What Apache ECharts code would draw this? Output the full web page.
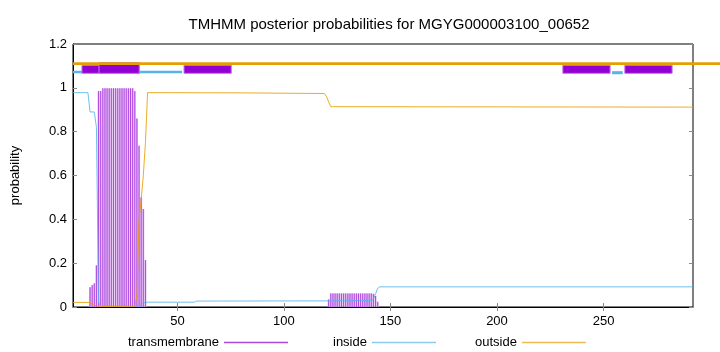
<!DOCTYPE html>
<html>
<head>
<meta charset="utf-8">
<script src="https://cdn.jsdelivr.net/npm/echarts@6/dist/echarts.min.js"></script>
<style>
  html, body { margin: 0; padding: 0; background: #fff; }
  #chart { width: 720px; height: 352px; }
</style>
</head>
<body>
<div id="chart"></div>
<script>
// residue range and ticks
const seqLength = 292;
const xTicks = [50, 100, 150, 200, 250];

// transmembrane posterior, [residue, probability] (drawn as impulses)
const tmProb = [
  [9, 0.09], [10, 0.10], [11, 0.108], [12, 0.19], [13, 0.985], [14, 0.985],
  [15, 0.998], [16, 0.998], [17, 0.998], [18, 0.998], [19, 0.998], [20, 0.998],
  [21, 0.998], [22, 0.998], [23, 0.998], [24, 0.998], [25, 0.998], [26, 0.998],
  [27, 0.998], [28, 0.998], [29, 0.998], [30, 0.985], [31, 0.86], [32, 0.736],
  [33, 0.50], [34, 0.447], [35, 0.214],
  [121, 0.035], [122, 0.062], [123, 0.062], [124, 0.062], [125, 0.062], [126, 0.062],
  [127, 0.062], [128, 0.062], [129, 0.062], [130, 0.062], [131, 0.062], [132, 0.062],
  [133, 0.062], [134, 0.062], [135, 0.062], [136, 0.062], [137, 0.062], [138, 0.062],
  [139, 0.062], [140, 0.062], [141, 0.062], [142, 0.06], [143, 0.05], [144, 0.024]
];

// inside posterior, [residue, probability]
const insideProb = [
  [1, 0.978], [8, 0.978], [9, 0.89], [11, 0.89], [12, 0.82], [13, 0.02], [14, 0.004],
  [32, 0.004], [33, 0.01], [34, 0.018], [35, 0.022], [58, 0.022], [59, 0.027],
  [120, 0.028], [141, 0.03], [142, 0.036], [143, 0.06], [144, 0.085], [145, 0.092],
  [292, 0.092]
];

// outside posterior, [residue, probability]
const outsideProb = [
  [1, 0.021], [9, 0.021], [10, 0.012], [12, 0.005], [14, 0.002], [30, 0.003],
  [31, 0.05], [32, 0.4], [33, 0.49], [34, 0.6], [35, 0.75], [36, 0.978],
  [80, 0.977], [119, 0.974], [120, 0.96], [121, 0.935], [122, 0.914], [292, 0.912]
];

// predicted topology bars along the top: [start, end, yLow, yHigh]
const outsideSegs = [[1, 305, 1.104, 1.117]];
const insideSegs = [[1, 52.2, 1.066, 1.078], [254, 259, 1.062, 1.076]];
const tmSegs = [
  [5.2, 32.1, 1.066, 1.103],
  [13.2, 32.1, 1.066, 1.115],
  [53.1, 75.3, 1.066, 1.103],
  [230.9, 253.1, 1.066, 1.103],
  [260, 282.2, 1.066, 1.103]
];

const FONT = 'Liberation Sans';
const PURPLE = '#9400d3';
const BLUE = '#56b4e9';
const ORANGE = '#e69f00';

const chart = echarts.init(document.getElementById('chart'));

// rectangle from [x1, x2, y1, y2]
const segRenderer = (fill, stroke) => (params, api) => {
  const p1 = api.coord([api.value(0), api.value(3)]);
  const p2 = api.coord([api.value(1), api.value(2)]);
  return {
    type: 'rect',
    shape: { x: p1[0], y: p1[1], width: p2[0] - p1[0], height: p2[1] - p1[1] },
    style: { fill: fill, stroke: stroke, lineWidth: stroke ? 1 : 0 }
  };
};

// vertical impulse from 0 up to value
const impulseRenderer = (params, api) => {
  const top = api.coord([api.value(0), api.value(1)]);
  const base = api.coord([api.value(0), 0]);
  return {
    type: 'group',
    children: [
      {
        type: 'line',
        shape: { x1: top[0], y1: base[1], x2: top[0], y2: top[1] },
        style: { stroke: '#e2b6f3', lineWidth: 2 }
      },
      {
        type: 'line',
        shape: { x1: top[0], y1: base[1], x2: top[0], y2: top[1] },
        style: { stroke: '#a02ed9', lineWidth: 0.8 }
      }
    ]
  };
};

const legendItem = (name, left, color) => ({
  top: 331,
  left: left,
  align: 'right',
  icon: 'rect',
  itemWidth: 64,
  itemHeight: 1.5,
  itemStyle: { color: color, borderWidth: 0 },
  textStyle: { fontFamily: FONT, fontSize: 13, color: '#000' },
  selectedMode: false,
  data: [{ name: name, itemStyle: { color: color } }]
});

const option = {
  animation: false,
  backgroundColor: '#fff',
  title: {
    text: 'TMHMM posterior probabilities for MGYG000003100_00652',
    left: 384,
    top: 12,
    textAlign: 'center',
    textStyle: { fontFamily: FONT, fontSize: 15, fontWeight: 'normal', color: '#000' }
  },
  legend: [
    legendItem('transmembrane', 123, '#a64ad8'),
    legendItem('inside', 328, '#8ccbee'),
    legendItem('outside', 470, '#eebc55')
  ],
  grid: {
    left: 73, right: 27, top: 44, bottom: 45,
    show: true, borderColor: '#000', borderWidth: 1, backgroundColor: 'transparent'
  },
  xAxis: [
    {
      type: 'value',
      min: 1,
      max: seqLength,
      axisLine: { lineStyle: { color: '#000' } },
      axisTick: { inside: true, length: 4, customValues: xTicks, lineStyle: { color: '#888' } },
      axisLabel: { customValues: xTicks, fontFamily: FONT, fontSize: 13, color: '#000', margin: 8 },
      splitLine: { show: false }
    },
    {
      type: 'value',
      position: 'top',
      min: 1,
      max: seqLength,
      axisLine: { show: false },
      axisTick: { inside: true, length: 4, customValues: xTicks, lineStyle: { color: '#888' } },
      axisLabel: { show: false },
      splitLine: { show: false }
    }
  ],
  yAxis: [
    {
      type: 'value',
      min: 0,
      max: 1.2,
      interval: 0.2,
      name: 'probability',
      nameLocation: 'middle',
      nameGap: 51,
      nameTextStyle: { fontFamily: FONT, fontSize: 13, color: '#000' },
      axisLine: { show: true, lineStyle: { color: '#000' } },
      axisTick: { inside: true, length: 4, lineStyle: { color: '#888' } },
      axisLabel: { fontFamily: FONT, fontSize: 13, color: '#000', margin: 6 },
      splitLine: { show: false }
    },
    {
      type: 'value',
      position: 'right',
      min: 0,
      max: 1.2,
      interval: 0.2,
      axisLine: { show: false },
      axisTick: { inside: true, length: 4, lineStyle: { color: '#888' } },
      axisLabel: { show: false },
      splitLine: { show: false }
    }
  ],
  series: [
    {
      name: 'transmembrane',
      type: 'custom',
      renderItem: impulseRenderer,
      itemStyle: { color: PURPLE },
      encode: { x: 0, y: 1 },
      data: tmProb,
      z: 2
    },
    {
      name: 'inside',
      type: 'line',
      data: insideProb,
      symbol: 'none',
      lineStyle: { color: BLUE, width: 1, opacity: 0.85 },
      itemStyle: { color: BLUE },
      z: 3
    },
    {
      name: 'outside',
      type: 'line',
      data: outsideProb,
      symbol: 'none',
      lineStyle: { color: ORANGE, width: 1, opacity: 0.85 },
      itemStyle: { color: ORANGE },
      z: 3
    },
    {
      type: 'custom',
      renderItem: segRenderer(BLUE, null),
      encode: { x: [0, 1], y: [2, 3] },
      data: insideSegs,
      clip: false,
      z: 4
    },
    {
      type: 'custom',
      renderItem: segRenderer(PURPLE, '#c27ae8'),
      encode: { x: [0, 1], y: [2, 3] },
      data: tmSegs,
      clip: false,
      z: 5
    },
    {
      type: 'custom',
      renderItem: segRenderer(ORANGE, null),
      encode: { x: [0, 1], y: [2, 3] },
      data: outsideSegs,
      clip: false,
      z: 6
    }
  ]
};

chart.setOption(option);

window.addEventListener('resize', () => chart.resize());
</script>
</body>
</html>
